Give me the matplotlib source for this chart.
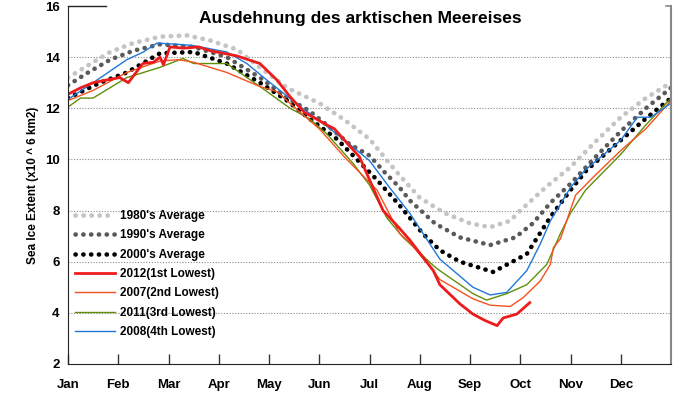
import matplotlib
matplotlib.use("Agg")
import matplotlib.pyplot as plt

plt.rcParams['font.family'] = ['Liberation Sans', 'DejaVu Sans']

# ---------------- data (x in months since Jan 1) ----------------
months = ["Jan", "Feb", "Mar", "Apr", "May", "Jun", "Jul", "Aug", "Sep", "Oct", "Nov", "Dec"]
yticks = [2, 4, 6, 8, 10, 12, 14, 16]

x80 = [0, 0.5, 0.84, 1.3, 1.83, 2.37, 2.83, 3.36, 3.82, 4.36, 5, 5.5, 6, 6.5, 7, 7.5, 8, 8.4, 8.8, 9, 9.5, 10, 10.5, 11, 11.5, 12]
y80 = [13.2, 13.8, 14.2, 14.55, 14.8, 14.85, 14.65, 14.3, 13.6, 12.8, 12.2, 11.55, 10.8, 9.6, 8.5, 7.9, 7.5, 7.35, 7.6, 8.0, 8.9, 9.7, 10.7, 11.65, 12.4, 13.0]

x90 = [0, 0.4, 0.84, 1.3, 1.83, 2.5, 3.16, 3.82, 4.36, 4.8, 5.15, 5.6, 6.0, 6.3, 6.6, 6.8, 7.3, 7.8, 8.4, 8.9, 9.25, 9.6, 10.0, 10.5, 11.0, 11.5, 12]
y90 = [12.9, 13.4, 13.9, 14.25, 14.5, 14.4, 14.0, 13.2, 12.4, 11.9, 11.35, 10.6, 10.15, 9.5, 8.9, 8.4, 7.5, 6.95, 6.65, 6.95, 7.5, 8.3, 9.05, 10.1, 11.1, 12.0, 12.8]

x00 = [0, 0.64, 1.17, 1.83, 2.5, 3.16, 3.82, 4.36, 4.8, 5.35, 6.15, 6.6, 7.06, 7.4, 7.8, 8.46, 9.13, 9.6, 10.0, 10.33, 11.0, 11.5, 12]
y00 = [12.4, 13.0, 13.4, 14.15, 14.2, 13.75, 13.0, 12.3, 11.6, 10.8, 9.2, 8.2, 7.1, 6.45, 6.0, 5.6, 6.3, 7.75, 8.8, 9.6, 10.75, 11.6, 12.4]

x12 = [0, 0.25, 0.5, 0.75, 1.03, 1.2, 1.49, 1.7, 1.83, 1.9, 2.03, 2.3, 2.6, 2.83, 3.36, 3.82, 4.16, 4.42, 4.7, 5.15, 5.3, 5.8, 6.27, 6.6, 6.8, 7.27, 7.4, 7.8, 8.06, 8.3, 8.54, 8.66, 8.93, 9.19]
y12 = [12.55, 12.8, 13.0, 13.1, 13.2, 13.0, 13.75, 13.8, 14.0, 13.7, 14.4, 14.35, 14.4, 14.25, 14.05, 13.75, 13.1, 12.45, 11.85, 11.35, 11.2, 10.1, 8.0, 7.3, 6.85, 5.65, 5.1, 4.35, 3.95, 3.7, 3.5, 3.8, 3.95, 4.4]

x07 = [0, 0.5, 1.17, 1.83, 2.2, 2.5, 2.83, 3.16, 3.82, 4.16, 4.5, 5.0, 5.5, 6.15, 6.6, 6.8, 7.27, 7.4, 8.06, 8.4, 8.8, 9.06, 9.4, 9.6, 9.66, 9.8, 10.1, 10.45, 11.0, 11.5, 12]
y07 = [12.3, 12.7, 13.4, 13.85, 13.9, 13.8, 13.6, 13.4, 12.85, 12.65, 12.05, 11.2, 10.1, 8.8, 7.1, 6.75, 5.65, 5.3, 4.55, 4.3, 4.25, 4.6, 5.25, 5.9, 6.55, 6.9, 8.6, 9.3, 10.35, 11.2, 12.3]

x11 = [0, 0.25, 0.5, 0.75, 1.17, 1.5, 1.83, 2.29, 2.5, 3.16, 3.82, 4.42, 4.8, 5.15, 5.67, 6.0, 6.35, 6.67, 7.27, 7.4, 8.06, 8.33, 8.73, 9.13, 9.53, 9.8, 10.0, 10.3, 11.0, 11.5, 12]
y11 = [12.05, 12.4, 12.4, 12.7, 13.2, 13.4, 13.6, 13.95, 13.75, 13.75, 12.85, 12.0, 11.6, 11.0, 9.85, 9.0, 7.7, 6.95, 5.85, 5.65, 4.75, 4.5, 4.75, 5.1, 5.9, 7.1, 7.9, 8.8, 10.2, 11.35, 12.4]

x08 = [0, 0.5, 1.17, 1.5, 1.77, 2.2, 2.5, 3.16, 3.56, 3.96, 4.6, 5.15, 5.6, 6.0, 6.4, 6.8, 7.4, 8.06, 8.4, 8.73, 9.13, 9.4, 9.6, 10.0, 10.3, 11.0, 11.33, 11.6, 12]
y08 = [12.35, 13.0, 13.9, 14.2, 14.55, 14.5, 14.45, 14.2, 13.75, 13.1, 12.1, 11.3, 10.6, 9.95, 8.9, 7.9, 6.1, 5.0, 4.7, 4.8, 5.65, 6.7, 7.6, 8.9, 9.6, 10.75, 11.65, 11.65, 12.2]

labels = ["1980's Average", "1990's Average", "2000's Average",
          "2012(1st Lowest)", "2007(2nd Lowest)", "2011(3rd Lowest)", "2008(4th Lowest)"]

# ---------------- figure ----------------
fig = plt.figure(figsize=(7.0, 3.93), dpi=100)
ax = fig.add_axes([68/700, 29/393, 603/700, 358/393])

dot = (0, (0.05, 1.65))
h80, = ax.plot(x80, y80, color='#c4c4c4', lw=3.4, linestyle=dot, dash_capstyle='round')
h90, = ax.plot(x90, y90, color='#5a5a5a', lw=3.3, linestyle=dot, dash_capstyle='round')
h00, = ax.plot(x00, y00, color='#000000', lw=3.3, linestyle=dot, dash_capstyle='round')
h11, = ax.plot(x11, y11, color='#5f8f0a', lw=1.0)
h07, = ax.plot(x07, y07, color='#f4511e', lw=1.0)
h08, = ax.plot(x08, y08, color='#1f78d8', lw=1.0)
h12, = ax.plot(x12, y12, color='#ec1c1c', lw=2.0)

ax.set_xlim(0, 12)
ax.set_ylim(2, 16)

for g in [4, 6, 8, 10, 12, 14]:
    ax.axhline(g, color='#8a8a8a', lw=0.8, linestyle=(0, (1, 1.5)), zorder=0)

ax.set_xticks(range(12))
ax.set_xticklabels(months, fontsize=9.5, fontweight='bold')
ax.set_yticks(yticks)
ax.set_yticklabels([str(v) for v in yticks], fontsize=9.5, fontweight='bold')
ax.tick_params(axis='x', direction='in', length=7, width=1, pad=11, color='#333333')
ax.tick_params(axis='y', length=0, pad=6)

ax.spines['top'].set_visible(False)
ax.spines['right'].set_color('#888888')
ax.spines['right'].set_linewidth(1.5)
ax.spines['left'].set_color('#222222')
ax.spines['bottom'].set_color('#222222')
ax.plot([0, 0.75], [16, 16], color='#222222', lw=1, clip_on=False)
ax.plot([11.9, 12], [16, 16], color='#888888', lw=1.2, clip_on=False)

ax.set_ylabel("Sea Ice Extent (x10 ^ 6 km2)", fontsize=8.5, fontweight='bold', labelpad=4)
ax.set_title("Ausdehnung des arktischen Meereises", fontsize=12.5, fontweight='bold',
             x=292/603, y=0.962, va='top')

hs = [h80, h90, h00, h12, h07, h11, h08]
leg = ax.legend(hs, labels, loc='upper left', bbox_to_anchor=(0.012, 0.43), frameon=False,
                prop={'weight': 'bold', 'size': 8.5}, handlelength=3.4, handletextpad=0.35,
                labelspacing=0.62, borderpad=0, borderaxespad=0)

fig.savefig("out.png", dpi=100)
